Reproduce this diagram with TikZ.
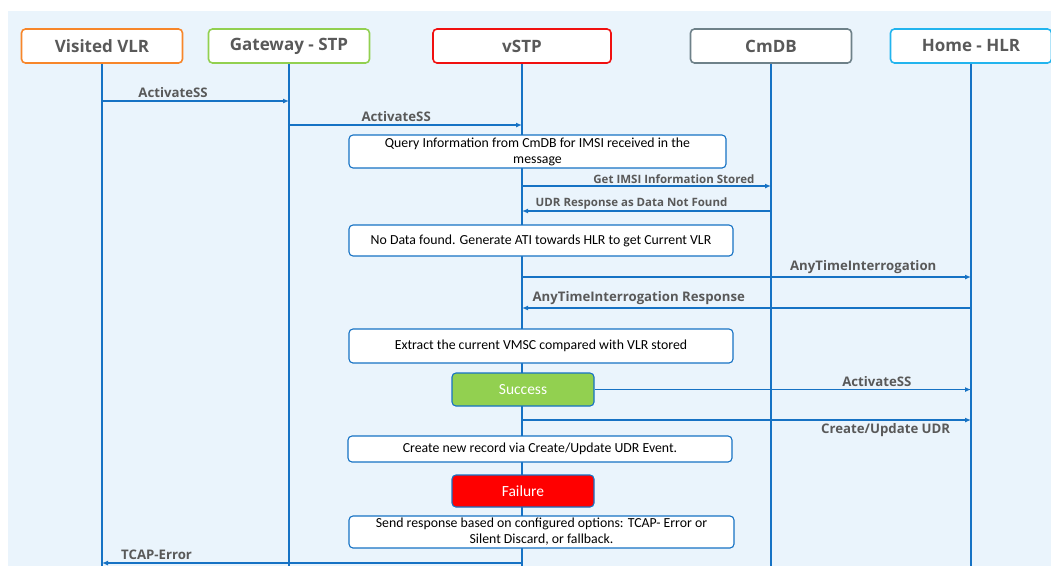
\documentclass[tikz,border=0pt]{standalone}
\usepackage{fontspec}
\setmainfont{Carlito}
\newfontfamily\headfont{Open Sans}
\usetikzlibrary{arrows.meta, positioning}
\definecolor{bgblue}{HTML}{EAF4FC}
\definecolor{lineblue}{HTML}{1672C4}
\definecolor{headgray}{HTML}{595959}
\definecolor{vlrorange}{HTML}{F7862A}
\definecolor{gwgreen}{HTML}{92D050}
\definecolor{stpred}{HTML}{F01010}
\definecolor{dbgray}{HTML}{6E8189}
\definecolor{hlrcyan}{HTML}{22B4EE}

\begin{document}
\begin{tikzpicture}[x=1pt, y=-1pt,
    actor/.style={draw, line width=1.6pt, rounded corners=4pt, fill=white, minimum width=161pt,
        minimum height=34pt, text=headgray, font=\headfont\bfseries\fontsize{17}{19}\selectfont},
    life/.style={lineblue, line width=1.2pt},
    msg/.style={lineblue, line width=1.2pt, -{Latex[length=6pt,width=5pt]}},
    lbl/.style={text=headgray, inner sep=2.5pt, font=\headfont\bfseries\fontsize{13.2}{15}\selectfont},
    slbl/.style={lbl, inner sep=1.5pt, font=\headfont\bfseries\fontsize{11.5}{13}\selectfont},
    note/.style={draw=lineblue, line width=1.1pt, rounded corners=4pt, fill=white, align=center,
        minimum width=384pt, inner sep=1pt, font=\fontsize{13.8}{16}\selectfont},
    result/.style={draw=lineblue, line width=1.1pt, rounded corners=4pt, text=white,
        minimum width=142pt, minimum height=33pt, font=\fontsize{15.5}{18}\selectfont}]

    \useasboundingbox (0,0) rectangle (1051,566);
    \fill[bgblue] (8,11) rectangle (1051,566);

    % participants
    \node[actor, draw=vlrorange] (vlr) at (102,46) {Visited VLR};
    \node[actor, draw=gwgreen] (gw) at (289,46) {Gateway - STP};
    \node[actor, draw=stpred, minimum width=178pt] (vstp) at (522,46) {vSTP};
    \node[actor, draw=dbgray] (cmdb) at (771,46) {CmDB};
    \node[actor, draw=hlrcyan] (hlr) at (971,46) {Home - HLR};

    \foreach \p in {vlr, gw, vstp, cmdb, hlr}
        \draw[life] (\p.south) -- (\p.south |- 0,566);

    % messages
    \draw[msg] (vlr.south |- 0,101) -- (gw.south |- 0,101)
        node[lbl, above, pos=0.38] {ActivateSS};
    \draw[msg] (gw.south |- 0,125) -- (vstp.south |- 0,125)
        node[lbl, above, pos=0.46] {ActivateSS};
    \node[note, minimum width=377pt, minimum height=33pt] (query) at (537.5,151.5)
        {Query Information from CmDB for IMSI received in the\\message};
    \draw[msg] (vstp.south |- 0,186) -- (cmdb.south |- 0,186)
        node[slbl, above, pos=0.61] {Get IMSI Information Stored};
    \draw[msg] (cmdb.south |- 0,211) -- (vstp.south |- 0,211)
        node[slbl, above, pos=0.56] {UDR Response as Data Not Found};
    \node[note, minimum height=31pt] (nodata) at (541,240.5)
        {No Data found. Generate ATI towards HLR to get Current VLR};
    \draw[msg] (vstp.south |- 0,277) -- (hlr.south |- 0,277)
        node[lbl, above, pos=0.76] {AnyTimeInterrogation};
    \draw[msg] (hlr.south |- 0,308) -- (vstp.south |- 0,308)
        node[lbl, above, pos=0.74] {AnyTimeInterrogation Response};
    \node[note, minimum height=34pt] (extract) at (541,346)
        {Extract the current VMSC compared with VLR stored};

    \node[result, fill=gwgreen] (ok) at (523,389.5) {Success};
    \draw[msg] (ok.east) -- (hlr.south |- ok.east)
        node[lbl, above, pos=0.75] {ActivateSS};
    \draw[msg] (vstp.south |- 0,420) -- (hlr.south |- 0,420)
        node[lbl, below, pos=0.81] {Create/Update UDR};
    \node[note, minimum height=26pt] (record) at (540,449)
        {Create new record via Create/Update UDR Event.};

    \node[result, fill=red, minimum height=32pt] (fail) at (523,491) {Failure};
    \node[note, minimum width=385pt, minimum height=32pt] (reply) at (541.5,532)
        {Send response based on configured options: TCAP- Error or\\Silent Discard, or fallback.};
    \draw[msg] (vstp.south |- 0,563) -- (vlr.south |- 0,563)
        node[lbl, above, pos=0.87] {TCAP-Error};
\end{tikzpicture}
\end{document}
